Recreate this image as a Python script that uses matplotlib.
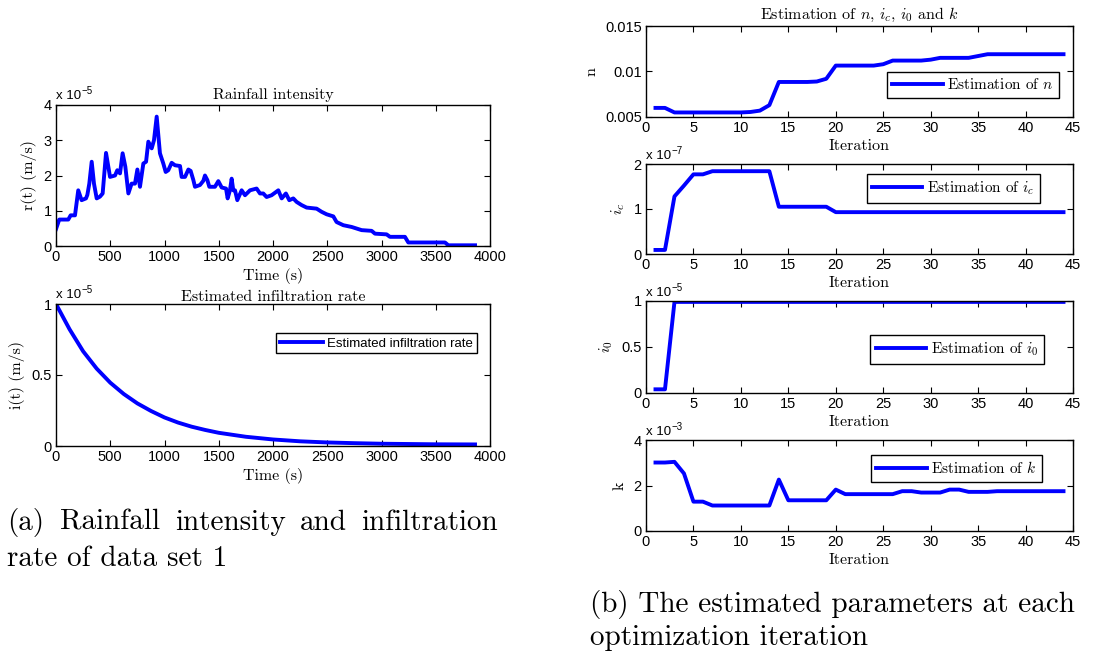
import matplotlib
matplotlib.use("Agg")
import matplotlib.pyplot as plt

plt.rcParams['font.family'] = ['Liberation Sans', 'DejaVu Sans']
plt.rcParams['mathtext.fontset'] = 'cm'

# ---------------- data ----------------
# Rainfall intensity (values in units of 1e-5 m/s)
rain_t = [0, 30, 113, 135, 175, 205, 236, 276, 289, 307, 329, 350, 375, 405, 430, 461, 498, 544,
          565, 590, 614, 639, 667, 697, 728, 750, 774, 805, 830, 851, 882, 903, 928, 958, 989,
          1011, 1035, 1066, 1097, 1143, 1158, 1189, 1220, 1241, 1266, 1281, 1327, 1358, 1373,
          1395, 1413, 1465, 1496, 1527, 1567, 1582, 1603, 1619, 1634, 1650, 1671, 1711, 1742,
          1788, 1849, 1880, 1910, 1941, 1987, 2049, 2080, 2119, 2150, 2187, 2218, 2264, 2310,
          2402, 2448, 2494, 2556, 2586, 2648, 2725, 2817, 2909, 2940, 3047, 3078, 3216, 3247,
          3585, 3616, 3862]
rain_r = [0.48, 0.75, 0.75, 0.87, 0.87, 1.58, 1.30, 1.35, 1.45, 1.77, 2.39, 1.77, 1.35, 1.40,
          1.49, 2.64, 1.96, 2.00, 2.15, 2.06, 2.63, 2.25, 1.49, 1.77, 1.77, 2.17, 1.68, 2.34,
          2.39, 2.96, 2.77, 3.00, 3.67, 2.63, 2.34, 2.10, 2.15, 2.36, 2.29, 2.27, 1.96, 1.96,
          2.17, 2.13, 1.87, 1.68, 1.73, 1.85, 2.00, 1.87, 1.68, 1.68, 1.84, 1.66, 1.63, 1.35,
          1.58, 1.91, 1.58, 1.58, 1.30, 1.58, 1.44, 1.58, 1.63, 1.49, 1.49, 1.39, 1.44, 1.58,
          1.35, 1.49, 1.30, 1.35, 1.25, 1.16, 1.09, 1.06, 0.97, 0.90, 0.84, 0.68, 0.59, 0.54,
          0.45, 0.43, 0.35, 0.33, 0.26, 0.26, 0.10, 0.10, 0.02, 0.02]

# Estimated infiltration rate (values in units of 1e-5 m/s)
inf_t = [0, 125, 250, 375, 500, 625, 750, 875, 1000, 1125, 1250, 1375, 1500, 1750, 2000,
         2250, 2500, 2750, 3000, 3250, 3500, 3862]
inf_i = [1.0, 0.822, 0.667, 0.545, 0.446, 0.366, 0.300, 0.247, 0.201, 0.165, 0.136, 0.113,
         0.093, 0.065, 0.046, 0.033, 0.025, 0.020, 0.016, 0.014, 0.012, 0.011]

# Parameter estimates per iteration
iters = list(range(1, 45))
est_n = [0.0060, 0.0060, 0.0055, 0.0055, 0.0055, 0.0055, 0.0055, 0.0055, 0.0055, 0.0055,
         0.00555, 0.0057, 0.0063, 0.00885, 0.00885, 0.00885, 0.00885, 0.0089, 0.0092, 0.01065,
         0.01065, 0.01065, 0.01065, 0.01065, 0.0108, 0.0112, 0.0112, 0.0112, 0.0112, 0.0113,
         0.0115, 0.0115, 0.0115, 0.0115, 0.0117, 0.0119, 0.0119, 0.0119, 0.0119, 0.0119,
         0.0119, 0.0119, 0.0119, 0.0119]
est_ic = [0.09, 0.09, 1.28, 1.52, 1.77, 1.77, 1.84, 1.84, 1.84, 1.84, 1.84, 1.84, 1.84, 1.05,
          1.05, 1.05, 1.05, 1.05, 1.05] + [0.93] * 25          # units of 1e-7
est_i0 = [0.04, 0.04] + [0.99] * 42                             # units of 1e-5
est_k = [3.01, 3.01, 3.04, 2.53, 1.29, 1.29, 1.12, 1.12, 1.12, 1.12, 1.12, 1.12, 1.12, 2.26,
         1.35, 1.35, 1.35, 1.35, 1.35, 1.82, 1.62, 1.62, 1.62, 1.62, 1.62, 1.62, 1.75, 1.75,
         1.69, 1.69, 1.69, 1.82, 1.82, 1.72, 1.72, 1.72, 1.75, 1.75, 1.75, 1.75, 1.75, 1.75,
         1.75, 1.75]                                            # units of 1e-3

# ---------------- layout ----------------
W, H = 1095, 659
fig = plt.figure(figsize=(W / 100, H / 100), dpi=100)
SERIF = 'cmr10'
BLUE = (0, 0, 1)
LW = 2.8
TICK_FS = 10.5
LAB_FS = 11.5
XPAD = 3


def add_ax(l, r, t, b):
    return fig.add_axes([l / W, 1 - b / H, (r - l) / W, (b - t) / H])


def style(ax):
    ax.tick_params(direction='in', top=True, right=True, length=4, width=0.8,
                   labelsize=TICK_FS, pad=3)
    for s in ax.spines.values():
        s.set_linewidth(1.0)


def offset(ax, exp):
    t = ax.text(0.0, 1.02, 'x 10', transform=ax.transAxes, fontsize=9.5,
                ha='left', va='bottom')
    ax.annotate(exp, xy=(1.0, 0.55), xycoords=t, fontsize=7, ha='left', va='bottom')


# Rainfall intensity
ax1 = add_ax(56, 490, 105, 246)
ax1.plot(rain_t, rain_r, color=BLUE, lw=LW)
ax1.set_xlim(0, 4000)
ax1.set_ylim(0, 4)
ax1.set_xticks(range(0, 4001, 500))
ax1.set_yticks([0, 1, 2, 3, 4])
ax1.set_title('Rainfall intensity', family=SERIF, fontsize=LAB_FS, pad=4)
ax1.set_xlabel('Time (s)', family=SERIF, fontsize=LAB_FS, labelpad=XPAD)
ax1.set_ylabel('r(t) (m/s)', family=SERIF, fontsize=LAB_FS, labelpad=5)
style(ax1)
offset(ax1, '\u22125')

# Estimated infiltration rate
ax2 = add_ax(56, 490, 304, 446)
ax2.plot(inf_t, inf_i, color=BLUE, lw=LW, label='Estimated infiltration rate')
ax2.set_xlim(0, 4000)
ax2.set_ylim(0, 1)
ax2.set_xticks(range(0, 4001, 500))
ax2.set_yticks([0, 0.5, 1])
ax2.set_yticklabels(['0', '0.5', '1'])
ax2.set_title('Estimated infiltration rate', family=SERIF, fontsize=LAB_FS, pad=2)
ax2.set_xlabel('Time (s)', family=SERIF, fontsize=LAB_FS, labelpad=XPAD)
ax2.set_ylabel('i(t) (m/s)', family=SERIF, fontsize=LAB_FS, labelpad=5)
style(ax2)
offset(ax2, '\u22125')
leg = ax2.legend(loc='upper right', bbox_to_anchor=(0.985, 0.84), fontsize=9.5,
                 fancybox=False, edgecolor='black', framealpha=1, handlelength=3.3,
                 handletextpad=0.3, borderpad=0.3)
leg.get_frame().set_linewidth(1.0)

# parameter panels
panels = [
    (26, 117, est_n, (0.005, 0.015), [0.005, 0.01, 0.015], ['0.005', '0.01', '0.015'], 'n',
     'Estimation of $n$', None, (0.985, 0.58)),
    (164, 254, est_ic, (0, 2), [0, 1, 2], ['0', '1', '2'], '$i_c$',
     'Estimation of $i_c$', '\u22127', (0.94, 0.97)),
    (301, 393, est_i0, (0, 1), [0, 0.5, 1], ['0', '0.5', '1'], '$i_0$',
     'Estimation of $i_0$', '\u22125', (0.95, 0.71)),
    (440, 531, est_k, (0, 4), [0, 2, 4], ['0', '2', '4'], 'k',
     'Estimation of $k$', '\u22123', (0.945, 0.92)),
]
for i, (t, b, y, ylim, yt, ytl, ylab, lab, exp, anchor) in enumerate(panels):
    ax = add_ax(646, 1073, t, b)
    ax.plot(iters, y, color=BLUE, lw=LW, label=lab)
    ax.set_xlim(0, 45)
    ax.set_ylim(*ylim)
    ax.set_xticks(range(0, 46, 5))
    ax.set_yticks(yt)
    ax.set_yticklabels(ytl)
    ax.set_xlabel('Iteration', family=SERIF, fontsize=LAB_FS, labelpad=XPAD)
    ax.set_ylabel(ylab, family=SERIF, fontsize=LAB_FS, labelpad=5)
    style(ax)
    if exp:
        offset(ax, exp)
    if i == 0:
        ax.set_title('Estimation of $n$, $i_c$, $i_0$ and $k$', family=SERIF,
                     fontsize=LAB_FS, pad=5)
    lg = ax.legend(loc='upper right', bbox_to_anchor=anchor,
                   fancybox=False, edgecolor='black', framealpha=1, handlelength=3.3,
                   handletextpad=0.3, borderpad=0.35, prop={'family': SERIF, 'size': 11})
    lg.get_frame().set_linewidth(1.0)

# captions
CAP_FS = 21
words_a = [('(a)', 7), ('Rainfall', 60), ('intensity', 175), ('and', 300), ('infiltration', 361)]
for w, x in words_a:
    fig.text(x / W, 1 - 530 / H, w, family=SERIF, fontsize=CAP_FS, ha='left', va='baseline')
fig.text(7 / W, 1 - 566 / H, 'rate of data set 1', family=SERIF, fontsize=CAP_FS,
         ha='left', va='baseline')
fig.text(590 / W, 1 - 612 / H, '(b) The estimated parameters at each', family=SERIF,
         fontsize=CAP_FS, ha='left', va='baseline')
fig.text(590 / W, 1 - 645 / H, 'optimization iteration', family=SERIF,
         fontsize=CAP_FS, ha='left', va='baseline')

fig.savefig('out.png', dpi=100)
